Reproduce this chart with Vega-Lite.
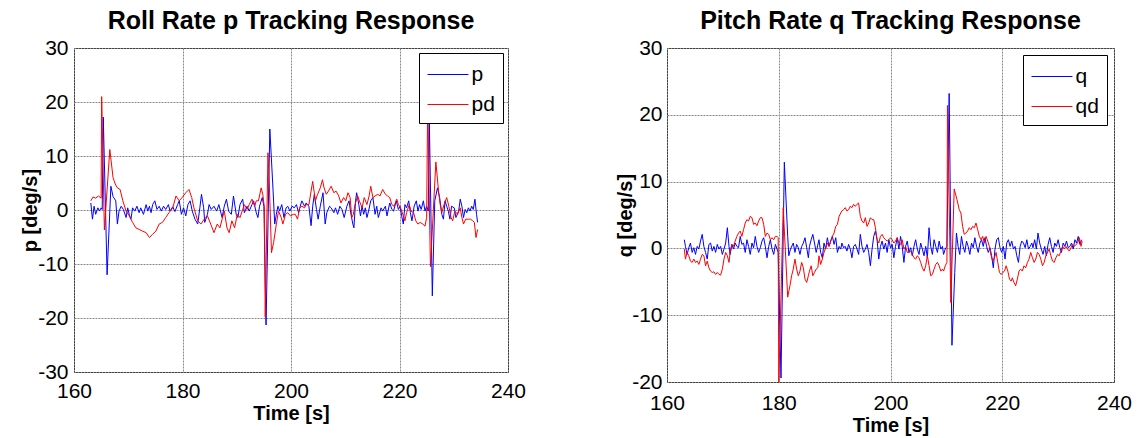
{
"$schema": "https://vega.github.io/schema/vega-lite/v6.json",
"background": "white",
"padding": {"left": 19, "top": 8, "right": 5, "bottom": 5},
"config": {
  "font": "Liberation Sans",
  "view": {"stroke": "black", "strokeWidth": 1},
  "axis": {"labelFont": "Liberation Sans", "labelFontSize": 21, "labelColor": "black", "titleFont": "Liberation Sans", "titleFontSize": 20, "titleFontWeight": "bold", "titleColor": "black", "domain": false, "ticks": false, "gridColor": "#888888", "gridDash": [2, 1], "gridOpacity": 1, "gridWidth": 1, "labelFlush": false, "labelOverlap": false, "labelExpr": "'' + datum.value"},
  "title": {"font": "Liberation Sans", "fontSize": 25, "fontWeight": "bold", "color": "black", "anchor": "middle", "frame": "group", "baseline": "alphabetic", "offset": 3},
  "legend": {"orient": "top-right", "offset": 5, "strokeColor": "black", "fillColor": "white", "padding": 8, "labelFont": "Liberation Sans", "labelFontSize": 21, "labelColor": "black", "symbolType": "stroke", "symbolSize": 676, "symbolStrokeWidth": 1, "symbolOpacity": 1, "rowPadding": 6, "labelOffset": 17.5, "title": null}
},
"datasets": {
"left": [
{"t":163.1,"v":1.3,"s":"p"},{"t":163.4,"v":-1.7,"s":"p"},{"t":163.7,"v":0.7,"s":"p"},{"t":164.0,"v":-0.8,"s":"p"},{"t":164.4,"v":0.4,"s":"p"},{"t":164.7,"v":-0.2,"s":"p"},{"t":165.0,"v":0.4,"s":"p"},{"t":165.2,"v":0.1,"s":"p"},{"t":165.4,"v":17.2,"s":"p"},{"t":166.1,"v":-12.0,"s":"p"},{"t":166.8,"v":4.4,"s":"p"},{"t":167.2,"v":2.5,"s":"p"},{"t":167.7,"v":1.7,"s":"p"},{"t":168.0,"v":-2.6,"s":"p"},{"t":168.3,"v":-0.2,"s":"p"},{"t":168.7,"v":0.7,"s":"p"},{"t":169.1,"v":0.1,"s":"p"},{"t":169.6,"v":-1.4,"s":"p"},{"t":169.9,"v":0.4,"s":"p"},{"t":170.2,"v":-0.9,"s":"p"},{"t":170.5,"v":-1.7,"s":"p"},{"t":170.8,"v":0.4,"s":"p"},{"t":171.2,"v":-0.2,"s":"p"},{"t":171.6,"v":0.7,"s":"p"},{"t":172.0,"v":-0.5,"s":"p"},{"t":172.3,"v":0.4,"s":"p"},{"t":172.8,"v":-0.8,"s":"p"},{"t":173.3,"v":1.0,"s":"p"},{"t":173.6,"v":-0.2,"s":"p"},{"t":173.9,"v":0.7,"s":"p"},{"t":174.2,"v":-0.5,"s":"p"},{"t":174.5,"v":1.0,"s":"p"},{"t":174.9,"v":1.7,"s":"p"},{"t":175.3,"v":0.1,"s":"p"},{"t":175.7,"v":0.7,"s":"p"},{"t":176.1,"v":-0.2,"s":"p"},{"t":176.5,"v":0.7,"s":"p"},{"t":176.9,"v":0.1,"s":"p"},{"t":177.4,"v":1.0,"s":"p"},{"t":177.7,"v":-0.2,"s":"p"},{"t":178.2,"v":0.6,"s":"p"},{"t":178.6,"v":-0.3,"s":"p"},{"t":179.1,"v":1.0,"s":"p"},{"t":179.4,"v":1.7,"s":"p"},{"t":179.8,"v":-0.8,"s":"p"},{"t":180.2,"v":0.4,"s":"p"},{"t":180.6,"v":-1.1,"s":"p"},{"t":181.0,"v":1.0,"s":"p"},{"t":181.4,"v":1.7,"s":"p"},{"t":181.8,"v":-0.2,"s":"p"},{"t":182.3,"v":-1.7,"s":"p"},{"t":182.8,"v":-2.6,"s":"p"},{"t":183.2,"v":0.4,"s":"p"},{"t":183.5,"v":2.9,"s":"p"},{"t":183.9,"v":0.4,"s":"p"},{"t":184.1,"v":-2.3,"s":"p"},{"t":184.6,"v":-0.8,"s":"p"},{"t":184.9,"v":1.0,"s":"p"},{"t":185.3,"v":0.1,"s":"p"},{"t":185.8,"v":0.7,"s":"p"},{"t":186.3,"v":-0.2,"s":"p"},{"t":186.7,"v":1.0,"s":"p"},{"t":187.0,"v":-0.2,"s":"p"},{"t":187.3,"v":-1.4,"s":"p"},{"t":187.7,"v":0.7,"s":"p"},{"t":188.1,"v":2.0,"s":"p"},{"t":188.5,"v":-0.2,"s":"p"},{"t":189.0,"v":-0.8,"s":"p"},{"t":189.4,"v":2.6,"s":"p"},{"t":189.9,"v":-0.8,"s":"p"},{"t":190.2,"v":-1.4,"s":"p"},{"t":190.6,"v":1.0,"s":"p"},{"t":191.1,"v":2.0,"s":"p"},{"t":191.4,"v":-0.5,"s":"p"},{"t":191.9,"v":0.7,"s":"p"},{"t":192.3,"v":-0.2,"s":"p"},{"t":192.8,"v":1.0,"s":"p"},{"t":193.1,"v":1.7,"s":"p"},{"t":193.6,"v":-0.5,"s":"p"},{"t":193.9,"v":-1.4,"s":"p"},{"t":194.2,"v":0.7,"s":"p"},{"t":194.7,"v":2.3,"s":"p"},{"t":195.0,"v":0.7,"s":"p"},{"t":195.4,"v":-21.3,"s":"p"},{"t":196.1,"v":15.0,"s":"p"},{"t":196.7,"v":3.5,"s":"p"},{"t":197.0,"v":-2.6,"s":"p"},{"t":197.3,"v":-0.8,"s":"p"},{"t":197.6,"v":0.7,"s":"p"},{"t":197.9,"v":-0.2,"s":"p"},{"t":198.3,"v":1.0,"s":"p"},{"t":198.7,"v":-1.4,"s":"p"},{"t":199.1,"v":0.4,"s":"p"},{"t":199.4,"v":0.7,"s":"p"},{"t":199.8,"v":-0.2,"s":"p"},{"t":200.2,"v":0.7,"s":"p"},{"t":200.6,"v":0.4,"s":"p"},{"t":201.0,"v":1.0,"s":"p"},{"t":201.4,"v":-0.5,"s":"p"},{"t":201.7,"v":0.7,"s":"p"},{"t":202.0,"v":1.7,"s":"p"},{"t":202.5,"v":0.7,"s":"p"},{"t":202.8,"v":1.3,"s":"p"},{"t":203.3,"v":0.7,"s":"p"},{"t":203.7,"v":-2.9,"s":"p"},{"t":204.0,"v":0.7,"s":"p"},{"t":204.3,"v":2.9,"s":"p"},{"t":204.7,"v":0.1,"s":"p"},{"t":205.0,"v":-1.7,"s":"p"},{"t":205.4,"v":0.7,"s":"p"},{"t":205.9,"v":3.2,"s":"p"},{"t":206.3,"v":-2.6,"s":"p"},{"t":206.6,"v":-0.5,"s":"p"},{"t":207.1,"v":0.7,"s":"p"},{"t":207.4,"v":0.4,"s":"p"},{"t":207.9,"v":-0.5,"s":"p"},{"t":208.2,"v":0.4,"s":"p"},{"t":208.6,"v":-0.8,"s":"p"},{"t":209.0,"v":0.7,"s":"p"},{"t":209.4,"v":0.1,"s":"p"},{"t":209.8,"v":-1.4,"s":"p"},{"t":210.3,"v":0.7,"s":"p"},{"t":210.7,"v":1.7,"s":"p"},{"t":211.0,"v":-0.5,"s":"p"},{"t":211.4,"v":-2.6,"s":"p"},{"t":211.6,"v":-3.3,"s":"p"},{"t":211.9,"v":1.7,"s":"p"},{"t":212.1,"v":3.2,"s":"p"},{"t":212.5,"v":1.0,"s":"p"},{"t":212.8,"v":-1.1,"s":"p"},{"t":213.1,"v":0.7,"s":"p"},{"t":213.4,"v":-0.8,"s":"p"},{"t":213.7,"v":0.4,"s":"p"},{"t":214.0,"v":-1.4,"s":"p"},{"t":214.3,"v":-0.2,"s":"p"},{"t":214.7,"v":1.7,"s":"p"},{"t":215.1,"v":2.3,"s":"p"},{"t":215.5,"v":-0.8,"s":"p"},{"t":215.8,"v":0.7,"s":"p"},{"t":216.1,"v":-1.4,"s":"p"},{"t":216.6,"v":0.4,"s":"p"},{"t":216.9,"v":-0.2,"s":"p"},{"t":217.4,"v":0.7,"s":"p"},{"t":217.7,"v":-1.1,"s":"p"},{"t":218.2,"v":1.3,"s":"p"},{"t":218.6,"v":0.1,"s":"p"},{"t":218.9,"v":-0.2,"s":"p"},{"t":219.4,"v":1.7,"s":"p"},{"t":219.8,"v":0.1,"s":"p"},{"t":220.1,"v":0.7,"s":"p"},{"t":220.4,"v":-1.1,"s":"p"},{"t":220.7,"v":-2.6,"s":"p"},{"t":221.0,"v":1.0,"s":"p"},{"t":221.3,"v":0.4,"s":"p"},{"t":221.7,"v":1.7,"s":"p"},{"t":222.0,"v":-0.5,"s":"p"},{"t":222.3,"v":-2.0,"s":"p"},{"t":222.7,"v":0.7,"s":"p"},{"t":223.1,"v":1.7,"s":"p"},{"t":223.4,"v":-0.2,"s":"p"},{"t":223.7,"v":1.0,"s":"p"},{"t":224.0,"v":0.1,"s":"p"},{"t":224.4,"v":1.7,"s":"p"},{"t":224.7,"v":-0.2,"s":"p"},{"t":225.0,"v":0.7,"s":"p"},{"t":225.3,"v":-0.2,"s":"p"},{"t":225.5,"v":16.5,"s":"p"},{"t":226.05,"v":-15.9,"s":"p"},{"t":226.5,"v":1.7,"s":"p"},{"t":227.0,"v":4.1,"s":"p"},{"t":227.4,"v":2.3,"s":"p"},{"t":227.8,"v":-0.8,"s":"p"},{"t":228.1,"v":-1.7,"s":"p"},{"t":228.4,"v":1.7,"s":"p"},{"t":228.7,"v":0.7,"s":"p"},{"t":229.0,"v":-0.2,"s":"p"},{"t":229.3,"v":-1.7,"s":"p"},{"t":229.6,"v":0.7,"s":"p"},{"t":230.1,"v":0.4,"s":"p"},{"t":230.4,"v":-1.4,"s":"p"},{"t":230.9,"v":-0.2,"s":"p"},{"t":231.2,"v":2.0,"s":"p"},{"t":231.5,"v":0.7,"s":"p"},{"t":231.8,"v":-1.4,"s":"p"},{"t":232.1,"v":0.1,"s":"p"},{"t":232.4,"v":-0.5,"s":"p"},{"t":232.7,"v":0.4,"s":"p"},{"t":233.0,"v":-0.2,"s":"p"},{"t":233.3,"v":0.7,"s":"p"},{"t":233.6,"v":0.1,"s":"p"},{"t":233.9,"v":2.0,"s":"p"},{"t":234.2,"v":-0.8,"s":"p"},{"t":234.4,"v":-2.3,"s":"p"},
{"t":163.1,"v":1.7,"s":"pd"},{"t":163.5,"v":2.4,"s":"pd"},{"t":164.0,"v":2.2,"s":"pd"},{"t":164.5,"v":2.6,"s":"pd"},{"t":165.0,"v":2.2,"s":"pd"},{"t":165.1,"v":21.0,"s":"pd"},{"t":165.6,"v":-3.7,"s":"pd"},{"t":166.6,"v":11.2,"s":"pd"},{"t":167.2,"v":6.0,"s":"pd"},{"t":167.6,"v":4.8,"s":"pd"},{"t":168.0,"v":4.1,"s":"pd"},{"t":168.5,"v":3.8,"s":"pd"},{"t":169.0,"v":1.7,"s":"pd"},{"t":169.6,"v":-0.2,"s":"pd"},{"t":170.2,"v":-1.1,"s":"pd"},{"t":170.8,"v":-2.3,"s":"pd"},{"t":171.4,"v":-3.3,"s":"pd"},{"t":172.0,"v":-3.6,"s":"pd"},{"t":172.6,"v":-3.9,"s":"pd"},{"t":173.3,"v":-4.2,"s":"pd"},{"t":173.9,"v":-5.1,"s":"pd"},{"t":174.5,"v":-4.5,"s":"pd"},{"t":175.1,"v":-3.9,"s":"pd"},{"t":175.7,"v":-2.6,"s":"pd"},{"t":176.3,"v":-2.3,"s":"pd"},{"t":176.9,"v":-1.4,"s":"pd"},{"t":177.5,"v":-0.5,"s":"pd"},{"t":178.2,"v":0.4,"s":"pd"},{"t":178.8,"v":2.6,"s":"pd"},{"t":179.4,"v":1.7,"s":"pd"},{"t":180.0,"v":2.4,"s":"pd"},{"t":180.6,"v":3.2,"s":"pd"},{"t":181.2,"v":3.8,"s":"pd"},{"t":181.7,"v":2.3,"s":"pd"},{"t":182.1,"v":0.4,"s":"pd"},{"t":182.8,"v":-2.0,"s":"pd"},{"t":183.4,"v":-2.6,"s":"pd"},{"t":184.0,"v":-1.7,"s":"pd"},{"t":184.6,"v":-1.1,"s":"pd"},{"t":185.2,"v":-2.6,"s":"pd"},{"t":185.8,"v":-4.2,"s":"pd"},{"t":186.4,"v":-2.6,"s":"pd"},{"t":186.9,"v":-3.3,"s":"pd"},{"t":187.3,"v":-1.7,"s":"pd"},{"t":187.7,"v":-0.2,"s":"pd"},{"t":188.2,"v":-3.3,"s":"pd"},{"t":188.6,"v":-4.2,"s":"pd"},{"t":189.1,"v":-2.0,"s":"pd"},{"t":189.6,"v":-3.3,"s":"pd"},{"t":190.1,"v":-0.8,"s":"pd"},{"t":190.6,"v":-1.4,"s":"pd"},{"t":191.0,"v":-0.2,"s":"pd"},{"t":191.4,"v":1.0,"s":"pd"},{"t":191.9,"v":0.1,"s":"pd"},{"t":192.3,"v":1.0,"s":"pd"},{"t":192.8,"v":2.0,"s":"pd"},{"t":193.3,"v":0.7,"s":"pd"},{"t":193.6,"v":1.7,"s":"pd"},{"t":194.0,"v":1.7,"s":"pd"},{"t":194.5,"v":4.1,"s":"pd"},{"t":194.8,"v":2.9,"s":"pd"},{"t":195.1,"v":0.4,"s":"pd"},{"t":195.25,"v":-19.8,"s":"pd"},{"t":195.75,"v":10.6,"s":"pd"},{"t":196.0,"v":5.0,"s":"pd"},{"t":196.4,"v":-7.9,"s":"pd"},{"t":196.8,"v":-6.0,"s":"pd"},{"t":197.3,"v":-2.6,"s":"pd"},{"t":197.7,"v":-0.2,"s":"pd"},{"t":198.2,"v":-1.4,"s":"pd"},{"t":198.5,"v":-2.6,"s":"pd"},{"t":199.0,"v":-0.8,"s":"pd"},{"t":199.4,"v":-0.5,"s":"pd"},{"t":199.9,"v":-1.1,"s":"pd"},{"t":200.4,"v":-0.8,"s":"pd"},{"t":200.8,"v":-0.8,"s":"pd"},{"t":201.2,"v":-1.7,"s":"pd"},{"t":201.6,"v":0.4,"s":"pd"},{"t":202.0,"v":0.7,"s":"pd"},{"t":202.5,"v":0.4,"s":"pd"},{"t":202.8,"v":1.0,"s":"pd"},{"t":203.3,"v":1.0,"s":"pd"},{"t":203.7,"v":3.5,"s":"pd"},{"t":204.0,"v":5.3,"s":"pd"},{"t":204.5,"v":1.7,"s":"pd"},{"t":204.9,"v":2.9,"s":"pd"},{"t":205.4,"v":4.1,"s":"pd"},{"t":205.8,"v":5.6,"s":"pd"},{"t":206.1,"v":4.1,"s":"pd"},{"t":206.5,"v":2.9,"s":"pd"},{"t":206.9,"v":3.5,"s":"pd"},{"t":207.4,"v":4.4,"s":"pd"},{"t":207.9,"v":3.2,"s":"pd"},{"t":208.3,"v":3.5,"s":"pd"},{"t":208.8,"v":2.6,"s":"pd"},{"t":209.2,"v":1.3,"s":"pd"},{"t":209.7,"v":2.3,"s":"pd"},{"t":210.1,"v":1.7,"s":"pd"},{"t":210.5,"v":3.2,"s":"pd"},{"t":210.9,"v":2.3,"s":"pd"},{"t":211.2,"v":-1.4,"s":"pd"},{"t":211.5,"v":-0.8,"s":"pd"},{"t":211.8,"v":1.0,"s":"pd"},{"t":212.3,"v":2.6,"s":"pd"},{"t":212.6,"v":1.7,"s":"pd"},{"t":213.1,"v":0.4,"s":"pd"},{"t":213.5,"v":2.3,"s":"pd"},{"t":214.0,"v":1.0,"s":"pd"},{"t":214.4,"v":2.6,"s":"pd"},{"t":214.7,"v":4.4,"s":"pd"},{"t":215.1,"v":2.3,"s":"pd"},{"t":215.5,"v":2.6,"s":"pd"},{"t":216.0,"v":2.9,"s":"pd"},{"t":216.4,"v":2.6,"s":"pd"},{"t":216.9,"v":3.8,"s":"pd"},{"t":217.4,"v":2.9,"s":"pd"},{"t":217.8,"v":2.6,"s":"pd"},{"t":218.2,"v":2.3,"s":"pd"},{"t":218.6,"v":1.0,"s":"pd"},{"t":219.0,"v":0.7,"s":"pd"},{"t":219.5,"v":2.0,"s":"pd"},{"t":219.8,"v":1.0,"s":"pd"},{"t":220.2,"v":0.4,"s":"pd"},{"t":220.6,"v":-0.8,"s":"pd"},{"t":221.0,"v":-2.0,"s":"pd"},{"t":221.3,"v":-0.5,"s":"pd"},{"t":221.8,"v":1.0,"s":"pd"},{"t":222.1,"v":-0.2,"s":"pd"},{"t":222.6,"v":-0.5,"s":"pd"},{"t":223.0,"v":-2.0,"s":"pd"},{"t":223.4,"v":-2.6,"s":"pd"},{"t":223.8,"v":-2.3,"s":"pd"},{"t":224.3,"v":-2.6,"s":"pd"},{"t":224.7,"v":-3.0,"s":"pd"},{"t":225.0,"v":-1.4,"s":"pd"},{"t":225.2,"v":20.0,"s":"pd"},{"t":225.7,"v":-10.5,"s":"pd"},{"t":226.7,"v":8.9,"s":"pd"},{"t":227.2,"v":3.5,"s":"pd"},{"t":227.5,"v":1.0,"s":"pd"},{"t":227.8,"v":-0.5,"s":"pd"},{"t":228.2,"v":1.0,"s":"pd"},{"t":228.7,"v":2.3,"s":"pd"},{"t":229.1,"v":0.7,"s":"pd"},{"t":229.5,"v":-1.4,"s":"pd"},{"t":229.8,"v":-2.0,"s":"pd"},{"t":230.2,"v":-0.2,"s":"pd"},{"t":230.7,"v":-0.8,"s":"pd"},{"t":231.2,"v":0.4,"s":"pd"},{"t":231.5,"v":-1.4,"s":"pd"},{"t":231.8,"v":-2.6,"s":"pd"},{"t":232.2,"v":-1.7,"s":"pd"},{"t":232.7,"v":-1.7,"s":"pd"},{"t":233.1,"v":-1.7,"s":"pd"},{"t":233.5,"v":-2.0,"s":"pd"},{"t":233.8,"v":-2.3,"s":"pd"},{"t":234.1,"v":-5.1,"s":"pd"},{"t":234.4,"v":-3.6,"s":"pd"}
],
"right": [
{"t":163.1,"v":1.3,"s":"q"},{"t":163.3,"v":0.3,"s":"q"},{"t":163.6,"v":-0.9,"s":"q"},{"t":163.9,"v":0.1,"s":"q"},{"t":164.2,"v":0.8,"s":"q"},{"t":164.5,"v":-0.6,"s":"q"},{"t":164.8,"v":0.1,"s":"q"},{"t":165.1,"v":-0.9,"s":"q"},{"t":165.4,"v":0.3,"s":"q"},{"t":165.7,"v":-0.1,"s":"q"},{"t":166.0,"v":1.1,"s":"q"},{"t":166.3,"v":2.1,"s":"q"},{"t":166.6,"v":0.3,"s":"q"},{"t":166.9,"v":-0.6,"s":"q"},{"t":167.2,"v":-1.6,"s":"q"},{"t":167.5,"v":0.6,"s":"q"},{"t":167.8,"v":0.8,"s":"q"},{"t":168.1,"v":-0.4,"s":"q"},{"t":168.4,"v":0.3,"s":"q"},{"t":168.7,"v":-0.6,"s":"q"},{"t":169.0,"v":0.6,"s":"q"},{"t":169.3,"v":-0.1,"s":"q"},{"t":169.6,"v":0.3,"s":"q"},{"t":169.9,"v":-0.9,"s":"q"},{"t":170.2,"v":-0.1,"s":"q"},{"t":170.5,"v":0.8,"s":"q"},{"t":170.8,"v":3.1,"s":"q"},{"t":171.1,"v":0.3,"s":"q"},{"t":171.3,"v":-0.9,"s":"q"},{"t":171.6,"v":0.6,"s":"q"},{"t":171.9,"v":-0.1,"s":"q"},{"t":172.2,"v":0.8,"s":"q"},{"t":172.5,"v":0.3,"s":"q"},{"t":172.8,"v":0.1,"s":"q"},{"t":173.1,"v":1.8,"s":"q"},{"t":173.4,"v":0.6,"s":"q"},{"t":173.7,"v":0.8,"s":"q"},{"t":174.0,"v":-0.6,"s":"q"},{"t":174.3,"v":1.3,"s":"q"},{"t":174.6,"v":0.3,"s":"q"},{"t":174.9,"v":-0.9,"s":"q"},{"t":175.2,"v":0.8,"s":"q"},{"t":175.5,"v":0.1,"s":"q"},{"t":175.8,"v":1.8,"s":"q"},{"t":176.1,"v":0.3,"s":"q"},{"t":176.4,"v":-0.6,"s":"q"},{"t":176.7,"v":0.1,"s":"q"},{"t":177.0,"v":1.1,"s":"q"},{"t":177.3,"v":1.6,"s":"q"},{"t":177.6,"v":0.3,"s":"q"},{"t":177.9,"v":-1.4,"s":"q"},{"t":178.2,"v":0.3,"s":"q"},{"t":178.5,"v":1.3,"s":"q"},{"t":178.8,"v":-0.1,"s":"q"},{"t":179.1,"v":-0.9,"s":"q"},{"t":179.4,"v":0.6,"s":"q"},{"t":179.7,"v":-0.1,"s":"q"},{"t":179.9,"v":-0.6,"s":"q"},{"t":180.4,"v":-19.4,"s":"q"},{"t":181.0,"v":12.9,"s":"q"},{"t":181.6,"v":1.8,"s":"q"},{"t":181.8,"v":-1.1,"s":"q"},{"t":182.1,"v":-0.1,"s":"q"},{"t":182.6,"v":0.8,"s":"q"},{"t":182.9,"v":-0.6,"s":"q"},{"t":183.2,"v":0.6,"s":"q"},{"t":183.5,"v":0.1,"s":"q"},{"t":183.8,"v":-0.9,"s":"q"},{"t":184.1,"v":0.3,"s":"q"},{"t":184.4,"v":0.8,"s":"q"},{"t":184.7,"v":1.6,"s":"q"},{"t":185.0,"v":0.1,"s":"q"},{"t":185.3,"v":-1.4,"s":"q"},{"t":185.5,"v":0.3,"s":"q"},{"t":185.8,"v":1.3,"s":"q"},{"t":186.1,"v":2.1,"s":"q"},{"t":186.4,"v":0.8,"s":"q"},{"t":186.7,"v":-0.6,"s":"q"},{"t":187.2,"v":1.3,"s":"q"},{"t":187.5,"v":-0.6,"s":"q"},{"t":187.8,"v":-1.4,"s":"q"},{"t":188.1,"v":0.8,"s":"q"},{"t":188.4,"v":-0.1,"s":"q"},{"t":188.7,"v":1.6,"s":"q"},{"t":189.0,"v":0.3,"s":"q"},{"t":189.3,"v":1.1,"s":"q"},{"t":189.6,"v":1.8,"s":"q"},{"t":189.9,"v":0.6,"s":"q"},{"t":190.2,"v":1.6,"s":"q"},{"t":190.5,"v":-0.6,"s":"q"},{"t":190.8,"v":0.3,"s":"q"},{"t":191.1,"v":-0.1,"s":"q"},{"t":191.3,"v":0.8,"s":"q"},{"t":191.6,"v":0.1,"s":"q"},{"t":191.9,"v":0.3,"s":"q"},{"t":192.2,"v":-0.4,"s":"q"},{"t":192.5,"v":0.6,"s":"q"},{"t":192.8,"v":-0.1,"s":"q"},{"t":193.1,"v":-1.4,"s":"q"},{"t":193.4,"v":0.3,"s":"q"},{"t":193.7,"v":0.6,"s":"q"},{"t":194.0,"v":-0.1,"s":"q"},{"t":194.3,"v":-0.9,"s":"q"},{"t":194.6,"v":2.1,"s":"q"},{"t":194.9,"v":0.3,"s":"q"},{"t":195.2,"v":-0.6,"s":"q"},{"t":195.5,"v":-0.1,"s":"q"},{"t":195.8,"v":0.6,"s":"q"},{"t":196.1,"v":-0.6,"s":"q"},{"t":196.4,"v":-2.6,"s":"q"},{"t":196.7,"v":-0.1,"s":"q"},{"t":197.0,"v":1.8,"s":"q"},{"t":197.3,"v":2.6,"s":"q"},{"t":197.6,"v":1.3,"s":"q"},{"t":197.9,"v":-1.6,"s":"q"},{"t":198.2,"v":0.3,"s":"q"},{"t":198.5,"v":1.1,"s":"q"},{"t":198.8,"v":-0.1,"s":"q"},{"t":199.1,"v":0.8,"s":"q"},{"t":199.4,"v":-0.6,"s":"q"},{"t":199.7,"v":1.3,"s":"q"},{"t":200.0,"v":0.1,"s":"q"},{"t":200.3,"v":0.6,"s":"q"},{"t":200.6,"v":-1.4,"s":"q"},{"t":200.9,"v":0.3,"s":"q"},{"t":201.2,"v":1.6,"s":"q"},{"t":201.5,"v":-0.1,"s":"q"},{"t":201.8,"v":1.8,"s":"q"},{"t":202.1,"v":0.3,"s":"q"},{"t":202.4,"v":-2.1,"s":"q"},{"t":202.7,"v":0.3,"s":"q"},{"t":203.0,"v":1.1,"s":"q"},{"t":203.3,"v":-0.6,"s":"q"},{"t":203.6,"v":0.1,"s":"q"},{"t":203.9,"v":-1.1,"s":"q"},{"t":204.2,"v":0.3,"s":"q"},{"t":204.5,"v":1.3,"s":"q"},{"t":204.8,"v":-0.1,"s":"q"},{"t":205.1,"v":-0.9,"s":"q"},{"t":205.4,"v":0.8,"s":"q"},{"t":205.7,"v":-0.1,"s":"q"},{"t":206.0,"v":-1.1,"s":"q"},{"t":206.3,"v":0.3,"s":"q"},{"t":206.6,"v":-1.4,"s":"q"},{"t":206.9,"v":3.1,"s":"q"},{"t":207.2,"v":0.3,"s":"q"},{"t":207.5,"v":-0.9,"s":"q"},{"t":207.8,"v":1.3,"s":"q"},{"t":208.1,"v":0.3,"s":"q"},{"t":208.4,"v":-0.6,"s":"q"},{"t":208.7,"v":1.1,"s":"q"},{"t":209.0,"v":-0.1,"s":"q"},{"t":209.3,"v":0.3,"s":"q"},{"t":209.5,"v":-0.9,"s":"q"},{"t":209.8,"v":-0.1,"s":"q"},{"t":210.1,"v":0.3,"s":"q"},{"t":210.5,"v":23.2,"s":"q"},{"t":211.0,"v":-14.5,"s":"q"},{"t":211.5,"v":-3.6,"s":"q"},{"t":211.8,"v":2.3,"s":"q"},{"t":212.1,"v":0.3,"s":"q"},{"t":212.4,"v":-0.9,"s":"q"},{"t":212.7,"v":1.8,"s":"q"},{"t":213.0,"v":0.3,"s":"q"},{"t":213.3,"v":-0.6,"s":"q"},{"t":213.6,"v":1.1,"s":"q"},{"t":213.9,"v":0.3,"s":"q"},{"t":214.2,"v":-0.9,"s":"q"},{"t":214.5,"v":0.8,"s":"q"},{"t":214.8,"v":0.1,"s":"q"},{"t":215.1,"v":1.6,"s":"q"},{"t":215.4,"v":0.3,"s":"q"},{"t":215.7,"v":-0.6,"s":"q"},{"t":216.0,"v":0.8,"s":"q"},{"t":216.3,"v":1.3,"s":"q"},{"t":216.6,"v":0.3,"s":"q"},{"t":216.9,"v":1.6,"s":"q"},{"t":217.2,"v":0.3,"s":"q"},{"t":217.5,"v":-0.6,"s":"q"},{"t":217.8,"v":0.1,"s":"q"},{"t":218.1,"v":-1.1,"s":"q"},{"t":218.4,"v":-2.9,"s":"q"},{"t":218.7,"v":-0.1,"s":"q"},{"t":219.0,"v":1.3,"s":"q"},{"t":219.3,"v":1.6,"s":"q"},{"t":219.6,"v":0.1,"s":"q"},{"t":219.9,"v":-0.6,"s":"q"},{"t":220.2,"v":0.3,"s":"q"},{"t":220.5,"v":-1.6,"s":"q"},{"t":220.8,"v":0.8,"s":"q"},{"t":221.1,"v":1.3,"s":"q"},{"t":221.4,"v":0.3,"s":"q"},{"t":221.7,"v":1.1,"s":"q"},{"t":222.0,"v":-0.1,"s":"q"},{"t":222.3,"v":0.3,"s":"q"},{"t":222.6,"v":-1.1,"s":"q"},{"t":222.9,"v":-2.1,"s":"q"},{"t":223.2,"v":0.3,"s":"q"},{"t":223.5,"v":1.1,"s":"q"},{"t":223.8,"v":0.8,"s":"q"},{"t":224.1,"v":0.1,"s":"q"},{"t":224.4,"v":1.3,"s":"q"},{"t":224.7,"v":-0.1,"s":"q"},{"t":225.0,"v":0.3,"s":"q"},{"t":225.3,"v":0.8,"s":"q"},{"t":225.5,"v":0.1,"s":"q"},{"t":225.8,"v":1.3,"s":"q"},{"t":226.1,"v":-0.1,"s":"q"},{"t":226.4,"v":2.3,"s":"q"},{"t":226.7,"v":0.8,"s":"q"},{"t":227.0,"v":-0.1,"s":"q"},{"t":227.3,"v":-0.9,"s":"q"},{"t":227.6,"v":0.3,"s":"q"},{"t":227.9,"v":-1.1,"s":"q"},{"t":228.2,"v":0.6,"s":"q"},{"t":228.5,"v":1.6,"s":"q"},{"t":228.8,"v":0.3,"s":"q"},{"t":229.1,"v":-0.6,"s":"q"},{"t":229.4,"v":0.8,"s":"q"},{"t":229.7,"v":0.3,"s":"q"},{"t":230.0,"v":1.3,"s":"q"},{"t":230.3,"v":0.1,"s":"q"},{"t":230.6,"v":-0.6,"s":"q"},{"t":230.9,"v":0.8,"s":"q"},{"t":231.2,"v":0.3,"s":"q"},{"t":231.5,"v":1.1,"s":"q"},{"t":231.8,"v":0.1,"s":"q"},{"t":232.1,"v":0.3,"s":"q"},{"t":232.4,"v":0.8,"s":"q"},{"t":232.7,"v":-0.1,"s":"q"},{"t":233.0,"v":1.3,"s":"q"},{"t":233.3,"v":0.8,"s":"q"},{"t":233.6,"v":1.8,"s":"q"},{"t":233.9,"v":0.6,"s":"q"},{"t":234.2,"v":1.3,"s":"q"},
{"t":163.1,"v":-0.1,"s":"qd"},{"t":163.3,"v":-1.6,"s":"qd"},{"t":163.6,"v":-0.6,"s":"qd"},{"t":163.9,"v":-1.1,"s":"qd"},{"t":164.2,"v":-1.9,"s":"qd"},{"t":164.5,"v":-2.1,"s":"qd"},{"t":164.8,"v":-1.6,"s":"qd"},{"t":165.1,"v":-2.1,"s":"qd"},{"t":165.4,"v":-1.9,"s":"qd"},{"t":165.7,"v":-2.4,"s":"qd"},{"t":166.0,"v":-1.6,"s":"qd"},{"t":166.3,"v":-0.9,"s":"qd"},{"t":166.6,"v":-1.1,"s":"qd"},{"t":166.9,"v":-2.6,"s":"qd"},{"t":167.2,"v":-1.9,"s":"qd"},{"t":167.5,"v":-2.9,"s":"qd"},{"t":167.8,"v":-3.4,"s":"qd"},{"t":168.1,"v":-3.6,"s":"qd"},{"t":168.4,"v":-3.5,"s":"qd"},{"t":168.7,"v":-3.9,"s":"qd"},{"t":169.0,"v":-3.6,"s":"qd"},{"t":169.3,"v":-3.9,"s":"qd"},{"t":169.6,"v":-4.0,"s":"qd"},{"t":169.9,"v":-3.1,"s":"qd"},{"t":170.2,"v":-1.6,"s":"qd"},{"t":170.5,"v":-0.6,"s":"qd"},{"t":170.8,"v":-1.1,"s":"qd"},{"t":171.1,"v":-2.1,"s":"qd"},{"t":171.3,"v":-0.6,"s":"qd"},{"t":171.6,"v":0.6,"s":"qd"},{"t":171.9,"v":0.3,"s":"qd"},{"t":172.2,"v":1.1,"s":"qd"},{"t":172.5,"v":1.8,"s":"qd"},{"t":172.8,"v":2.3,"s":"qd"},{"t":173.1,"v":2.6,"s":"qd"},{"t":173.4,"v":1.8,"s":"qd"},{"t":173.7,"v":2.8,"s":"qd"},{"t":174.0,"v":3.8,"s":"qd"},{"t":174.3,"v":4.3,"s":"qd"},{"t":174.6,"v":4.1,"s":"qd"},{"t":174.9,"v":4.8,"s":"qd"},{"t":175.2,"v":4.6,"s":"qd"},{"t":175.5,"v":3.6,"s":"qd"},{"t":175.8,"v":3.8,"s":"qd"},{"t":176.1,"v":3.4,"s":"qd"},{"t":176.4,"v":4.1,"s":"qd"},{"t":176.7,"v":4.6,"s":"qd"},{"t":177.0,"v":4.6,"s":"qd"},{"t":177.3,"v":3.6,"s":"qd"},{"t":177.6,"v":1.8,"s":"qd"},{"t":177.9,"v":2.3,"s":"qd"},{"t":178.2,"v":2.1,"s":"qd"},{"t":178.5,"v":1.3,"s":"qd"},{"t":178.8,"v":1.6,"s":"qd"},{"t":179.1,"v":1.3,"s":"qd"},{"t":179.4,"v":1.8,"s":"qd"},{"t":179.7,"v":1.8,"s":"qd"},{"t":179.9,"v":1.6,"s":"qd"},{"t":180.0,"v":-20.5,"s":"qd"},{"t":180.8,"v":6.1,"s":"qd"},{"t":181.6,"v":-7.3,"s":"qd"},{"t":182.0,"v":-5.6,"s":"qd"},{"t":182.3,"v":-4.1,"s":"qd"},{"t":182.6,"v":-3.1,"s":"qd"},{"t":182.9,"v":-1.6,"s":"qd"},{"t":183.2,"v":-3.1,"s":"qd"},{"t":183.5,"v":-4.1,"s":"qd"},{"t":183.8,"v":-3.4,"s":"qd"},{"t":184.1,"v":-2.1,"s":"qd"},{"t":184.4,"v":-2.9,"s":"qd"},{"t":184.7,"v":-4.6,"s":"qd"},{"t":185.0,"v":-5.1,"s":"qd"},{"t":185.3,"v":-4.1,"s":"qd"},{"t":185.5,"v":-3.4,"s":"qd"},{"t":185.8,"v":-2.6,"s":"qd"},{"t":186.1,"v":-4.1,"s":"qd"},{"t":186.4,"v":-3.6,"s":"qd"},{"t":186.7,"v":-3.1,"s":"qd"},{"t":187.0,"v":-2.9,"s":"qd"},{"t":187.2,"v":-1.1,"s":"qd"},{"t":187.5,"v":-2.4,"s":"qd"},{"t":187.8,"v":-1.6,"s":"qd"},{"t":188.1,"v":-0.6,"s":"qd"},{"t":188.4,"v":0.1,"s":"qd"},{"t":188.7,"v":0.8,"s":"qd"},{"t":189.0,"v":0.3,"s":"qd"},{"t":189.3,"v":1.1,"s":"qd"},{"t":189.6,"v":1.8,"s":"qd"},{"t":189.9,"v":2.3,"s":"qd"},{"t":190.2,"v":3.3,"s":"qd"},{"t":190.5,"v":3.6,"s":"qd"},{"t":190.8,"v":4.8,"s":"qd"},{"t":191.1,"v":5.3,"s":"qd"},{"t":191.3,"v":5.6,"s":"qd"},{"t":191.6,"v":5.8,"s":"qd"},{"t":191.9,"v":6.1,"s":"qd"},{"t":192.2,"v":5.6,"s":"qd"},{"t":192.5,"v":5.8,"s":"qd"},{"t":192.8,"v":6.3,"s":"qd"},{"t":193.1,"v":6.1,"s":"qd"},{"t":193.4,"v":6.6,"s":"qd"},{"t":193.7,"v":6.3,"s":"qd"},{"t":194.0,"v":6.6,"s":"qd"},{"t":194.3,"v":6.8,"s":"qd"},{"t":194.6,"v":4.8,"s":"qd"},{"t":194.9,"v":4.1,"s":"qd"},{"t":195.2,"v":3.8,"s":"qd"},{"t":195.5,"v":4.6,"s":"qd"},{"t":195.8,"v":3.3,"s":"qd"},{"t":196.1,"v":3.8,"s":"qd"},{"t":196.4,"v":4.6,"s":"qd"},{"t":196.7,"v":4.3,"s":"qd"},{"t":197.0,"v":4.3,"s":"qd"},{"t":197.3,"v":3.1,"s":"qd"},{"t":197.6,"v":1.3,"s":"qd"},{"t":197.9,"v":0.8,"s":"qd"},{"t":198.2,"v":1.8,"s":"qd"},{"t":198.5,"v":2.1,"s":"qd"},{"t":198.8,"v":1.6,"s":"qd"},{"t":199.1,"v":1.3,"s":"qd"},{"t":199.4,"v":1.1,"s":"qd"},{"t":199.7,"v":1.3,"s":"qd"},{"t":200.0,"v":1.6,"s":"qd"},{"t":200.3,"v":1.3,"s":"qd"},{"t":200.6,"v":0.8,"s":"qd"},{"t":200.9,"v":1.1,"s":"qd"},{"t":201.2,"v":1.6,"s":"qd"},{"t":201.5,"v":0.8,"s":"qd"},{"t":201.8,"v":0.6,"s":"qd"},{"t":202.1,"v":1.3,"s":"qd"},{"t":202.4,"v":-0.1,"s":"qd"},{"t":202.7,"v":0.3,"s":"qd"},{"t":203.0,"v":-0.6,"s":"qd"},{"t":203.3,"v":-0.6,"s":"qd"},{"t":203.6,"v":-0.4,"s":"qd"},{"t":203.9,"v":-0.9,"s":"qd"},{"t":204.2,"v":-1.4,"s":"qd"},{"t":204.5,"v":-1.6,"s":"qd"},{"t":204.8,"v":-1.1,"s":"qd"},{"t":205.1,"v":-1.4,"s":"qd"},{"t":205.4,"v":-2.1,"s":"qd"},{"t":205.7,"v":-2.9,"s":"qd"},{"t":206.0,"v":-3.4,"s":"qd"},{"t":206.3,"v":-2.6,"s":"qd"},{"t":206.6,"v":-1.1,"s":"qd"},{"t":206.9,"v":-2.6,"s":"qd"},{"t":207.2,"v":-4.1,"s":"qd"},{"t":207.5,"v":-3.9,"s":"qd"},{"t":207.8,"v":-3.1,"s":"qd"},{"t":208.1,"v":-2.4,"s":"qd"},{"t":208.4,"v":-2.1,"s":"qd"},{"t":208.7,"v":-2.6,"s":"qd"},{"t":209.0,"v":-3.4,"s":"qd"},{"t":209.3,"v":-3.1,"s":"qd"},{"t":209.5,"v":-3.4,"s":"qd"},{"t":209.8,"v":-2.6,"s":"qd"},{"t":210.1,"v":-2.1,"s":"qd"},{"t":210.2,"v":21.4,"s":"qd"},{"t":210.8,"v":-8.1,"s":"qd"},{"t":211.4,"v":8.9,"s":"qd"},{"t":211.9,"v":7.3,"s":"qd"},{"t":212.3,"v":5.8,"s":"qd"},{"t":212.6,"v":5.3,"s":"qd"},{"t":212.9,"v":3.3,"s":"qd"},{"t":213.2,"v":2.1,"s":"qd"},{"t":213.5,"v":2.3,"s":"qd"},{"t":213.8,"v":2.6,"s":"qd"},{"t":214.1,"v":3.1,"s":"qd"},{"t":214.4,"v":2.8,"s":"qd"},{"t":214.7,"v":3.3,"s":"qd"},{"t":215.0,"v":3.1,"s":"qd"},{"t":215.3,"v":3.8,"s":"qd"},{"t":215.6,"v":2.8,"s":"qd"},{"t":215.9,"v":1.8,"s":"qd"},{"t":216.2,"v":1.3,"s":"qd"},{"t":216.5,"v":1.8,"s":"qd"},{"t":216.8,"v":0.8,"s":"qd"},{"t":217.1,"v":1.8,"s":"qd"},{"t":217.4,"v":1.1,"s":"qd"},{"t":217.7,"v":0.3,"s":"qd"},{"t":218.0,"v":-1.1,"s":"qd"},{"t":218.3,"v":-1.9,"s":"qd"},{"t":218.6,"v":-1.4,"s":"qd"},{"t":218.9,"v":-0.6,"s":"qd"},{"t":219.2,"v":-2.1,"s":"qd"},{"t":219.5,"v":-3.6,"s":"qd"},{"t":219.8,"v":-3.9,"s":"qd"},{"t":220.1,"v":-3.6,"s":"qd"},{"t":220.4,"v":-3.4,"s":"qd"},{"t":220.7,"v":-2.6,"s":"qd"},{"t":221.0,"v":-3.4,"s":"qd"},{"t":221.3,"v":-4.6,"s":"qd"},{"t":221.6,"v":-4.9,"s":"qd"},{"t":221.8,"v":-4.4,"s":"qd"},{"t":222.1,"v":-5.1,"s":"qd"},{"t":222.4,"v":-5.6,"s":"qd"},{"t":222.7,"v":-4.6,"s":"qd"},{"t":223.0,"v":-3.4,"s":"qd"},{"t":223.3,"v":-3.1,"s":"qd"},{"t":223.6,"v":-3.4,"s":"qd"},{"t":223.9,"v":-2.6,"s":"qd"},{"t":224.2,"v":-2.9,"s":"qd"},{"t":224.5,"v":-2.1,"s":"qd"},{"t":224.8,"v":-1.6,"s":"qd"},{"t":225.1,"v":-0.6,"s":"qd"},{"t":225.4,"v":-1.4,"s":"qd"},{"t":225.7,"v":-2.1,"s":"qd"},{"t":226.0,"v":-1.6,"s":"qd"},{"t":226.3,"v":-0.6,"s":"qd"},{"t":226.6,"v":-0.9,"s":"qd"},{"t":226.9,"v":-1.6,"s":"qd"},{"t":227.2,"v":-2.6,"s":"qd"},{"t":227.5,"v":-2.1,"s":"qd"},{"t":227.8,"v":-1.1,"s":"qd"},{"t":228.1,"v":-0.6,"s":"qd"},{"t":228.4,"v":-0.1,"s":"qd"},{"t":228.7,"v":-1.1,"s":"qd"},{"t":229.0,"v":-1.9,"s":"qd"},{"t":229.3,"v":-2.1,"s":"qd"},{"t":229.6,"v":-1.4,"s":"qd"},{"t":229.9,"v":-0.9,"s":"qd"},{"t":230.2,"v":-1.1,"s":"qd"},{"t":230.5,"v":-0.4,"s":"qd"},{"t":230.8,"v":0.3,"s":"qd"},{"t":231.1,"v":-0.1,"s":"qd"},{"t":231.4,"v":0.3,"s":"qd"},{"t":231.7,"v":-0.1,"s":"qd"},{"t":232.0,"v":-0.4,"s":"qd"},{"t":232.3,"v":0.1,"s":"qd"},{"t":232.6,"v":0.6,"s":"qd"},{"t":232.9,"v":0.3,"s":"qd"},{"t":233.2,"v":0.6,"s":"qd"},{"t":233.5,"v":0.8,"s":"qd"},{"t":233.8,"v":1.6,"s":"qd"},{"t":234.1,"v":0.3,"s":"qd"},{"t":234.3,"v":1.1,"s":"qd"}
]
},
"bounds": "flush",
"spacing": 159,
"resolve": {"scale": {"color": "independent", "x": "independent", "y": "independent"}, "legend": {"color": "independent"}},
"hconcat": [
{
  "width": 434, "height": 324,
  "title": {"text": "Roll Rate p Tracking Response"},
  "data": {"name": "left"},
  "mark": {"type": "line", "strokeWidth": 1, "clip": true},
  "encoding": {
    "x": {"field": "t", "type": "quantitative", "scale": {"domain": [160, 240], "nice": false, "zero": false}, "axis": {"values": [160, 180, 200, 220, 240], "title": "Time [s]", "labelPadding": 8, "titleY": 47, "titleBaseline": "alphabetic"}},
    "y": {"field": "v", "type": "quantitative", "scale": {"domain": [-30, 30], "nice": false}, "axis": {"values": [-30, -20, -10, 0, 10, 20, 30], "title": "p [deg/s]", "labelPadding": 6, "titleX": -38, "titleBaseline": "alphabetic"}},
    "color": {"field": "s", "type": "nominal", "scale": {"domain": ["p", "pd"], "range": ["#0000ff", "#ff0000"]}, "legend": {"title": null, "encode": {"symbols": {"update": {"shape": {"value": "M-1,0H2.15"}}}}}}
  }
},
{
  "width": 447, "height": 334,
  "title": {"text": "Pitch Rate q Tracking Response"},
  "data": {"name": "right"},
  "mark": {"type": "line", "strokeWidth": 1, "clip": true},
  "encoding": {
    "x": {"field": "t", "type": "quantitative", "scale": {"domain": [160, 240], "nice": false, "zero": false}, "axis": {"values": [160, 180, 200, 220, 240], "title": "Time [s]", "labelPadding": 10, "titleY": 49, "titleBaseline": "alphabetic"}},
    "y": {"field": "v", "type": "quantitative", "scale": {"domain": [-20, 30], "nice": false}, "axis": {"values": [-20, -10, 0, 10, 20, 30], "title": "q [deg/s]", "labelPadding": 5, "titleX": -36, "titleBaseline": "alphabetic"}},
    "color": {"field": "s", "type": "nominal", "scale": {"domain": ["q", "qd"], "range": ["#0000ff", "#ff0000"]}, "legend": {"title": null, "offset": 7, "encode": {"symbols": {"update": {"shape": {"value": "M-1,0H2.15"}}}}}}
  }
}
]
}
